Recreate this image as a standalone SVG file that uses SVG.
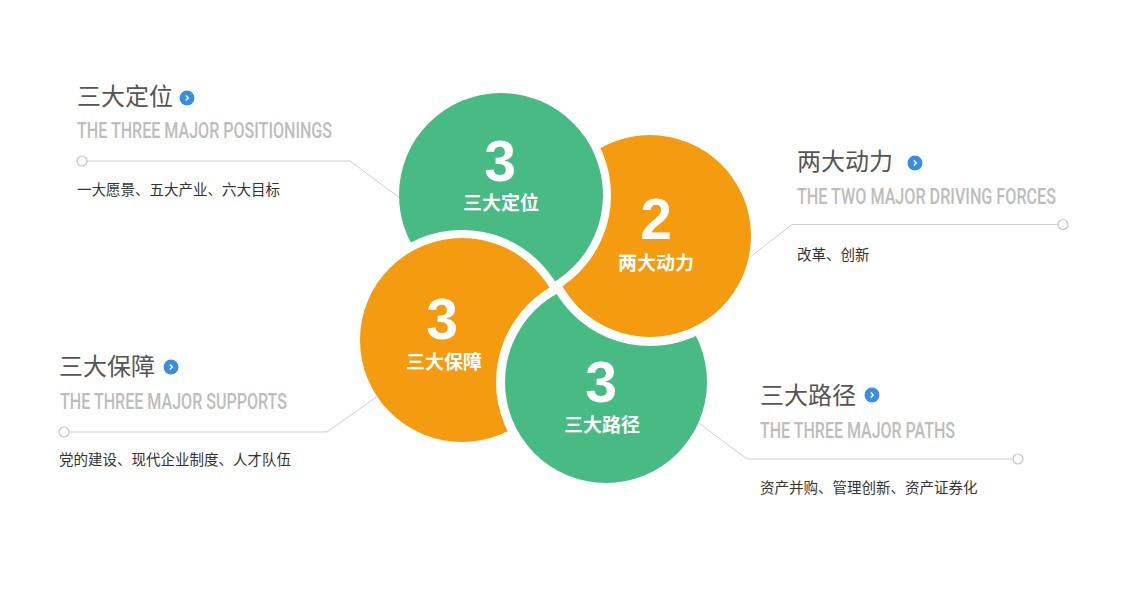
<svg xmlns="http://www.w3.org/2000/svg" width="1140" height="600" viewBox="0 0 1140 600">
<style>
.title{font-family:"Noto Sans CJK SC","Noto Sans",sans-serif;font-size:24px;fill:#555;font-weight:400}
.en{font-family:Roboto,"DejaVu Sans Condensed",sans-serif;font-weight:500;font-size:22px;fill:#bdbdbd}
.desc{font-family:"Noto Sans CJK SC","Noto Sans",sans-serif;font-size:14.5px;fill:#333}
.num{font-family:"Liberation Sans",Arial,sans-serif;font-weight:700;font-size:57px;fill:#fff;text-anchor:middle}
.lbl{font-family:"Noto Sans CJK SC","Noto Sans",sans-serif;font-weight:700;font-size:19px;fill:#fff;text-anchor:middle}
.line{fill:none;stroke:#cfcfcf;stroke-width:1}
.dot{fill:#fff;stroke:#c4c4c4;stroke-width:1.2}
.halo{fill:#fff}
.g{fill:#48ba83}
.o{fill:#f49b10}
.icon{fill:#3b8de0}
.chev{fill:none;stroke:#fff;stroke-width:1.4}
</style>
<defs>
<clipPath id="notOR"><path clip-rule="evenodd" d="M0 0H1140V600H0Z M760 236a110 110 0 1 0-220 0a110 110 0 1 0 220 0Z"/></clipPath>
</defs>
<rect width="1140" height="600" fill="#fff"/>
<g id="node-two-forces">
<circle class="halo" cx="650" cy="236" r="110"/>
<circle class="o" cx="650" cy="236" r="101"/>
<text class="num" x="656" y="239">2</text>
<text class="lbl" x="656" y="270">两大动力</text>
</g>
<g id="node-three-positionings">
<circle class="halo" cx="501" cy="195" r="110"/>
<circle class="g" cx="501" cy="195" r="102"/>
<text class="num" x="500" y="181">3</text>
<text class="lbl" x="501" y="210">三大定位</text>
</g>
<g id="node-three-supports">
<circle class="halo" cx="462" cy="340" r="110"/>
<circle class="o" cx="462" cy="340" r="102"/>
<text class="num" x="442" y="339">3</text>
<text class="lbl" x="444" y="369">三大保障</text>
</g>
<g id="node-three-paths">
<g clip-path="url(#notOR)">
<circle class="halo" cx="606" cy="382" r="110"/>
<circle class="g" cx="606" cy="382" r="101"/>
</g>
<text class="num" x="601" y="402">3</text>
<text class="lbl" x="602" y="432">三大路径</text>
</g>
<g id="connectors">
<path class="line" d="M87 161H350L399 197.5"/>
<circle class="dot" cx="82" cy="161" r="5"/>
<path class="line" d="M748.3 258.4L792 224.5H1058"/>
<circle class="dot" cx="1063" cy="224.5" r="5"/>
<path class="line" d="M69 432H327L377.5 396.3"/>
<circle class="dot" cx="64" cy="432" r="5"/>
<path class="line" d="M698.6 422.9L747 459H1013"/>
<circle class="dot" cx="1018" cy="459" r="5"/>
</g>
<g id="label-positionings">
<text class="title" x="77" y="105">三大定位</text>
<circle class="icon" cx="187" cy="98" r="7.5"/>
<path class="chev" d="M185.8 95.5L188.3 98L185.8 100.5"/>
<text class="en" transform="translate(77 138) scale(0.8 1)" x="0" y="0" textLength="318.75" lengthAdjust="spacingAndGlyphs">THE THREE MAJOR POSITIONINGS</text>
<text class="desc" x="77" y="195">一大愿景、五大产业、六大目标</text>
</g>
<g id="label-forces">
<text class="title" x="797" y="170">两大动力</text>
<circle class="icon" cx="915" cy="163" r="7.5"/>
<path class="chev" d="M913.8 160.5L916.3 163L913.8 165.5"/>
<text class="en" transform="translate(797 204) scale(0.8 1)" x="0" y="0" textLength="323.75" lengthAdjust="spacingAndGlyphs">THE TWO MAJOR DRIVING FORCES</text>
<text class="desc" x="797" y="260">改革、创新</text>
</g>
<g id="label-supports">
<text class="title" x="59" y="375">三大保障</text>
<circle class="icon" cx="171" cy="367" r="7.5"/>
<path class="chev" d="M169.8 364.5L172.3 367L169.8 369.5"/>
<text class="en" transform="translate(60 409) scale(0.8 1)" x="0" y="0" textLength="283.75" lengthAdjust="spacingAndGlyphs">THE THREE MAJOR SUPPORTS</text>
<text class="desc" x="59" y="465">党的建设、现代企业制度、人才队伍</text>
</g>
<g id="label-paths">
<text class="title" x="760" y="404">三大路径</text>
<circle class="icon" cx="872" cy="395" r="7.5"/>
<path class="chev" d="M870.8 392.5L873.3 395L870.8 397.5"/>
<text class="en" transform="translate(760 438) scale(0.8 1)" x="0" y="0" textLength="243.75" lengthAdjust="spacingAndGlyphs">THE THREE MAJOR PATHS</text>
<text class="desc" x="760" y="493">资产并购、管理创新、资产证券化</text>
</g>
</svg>
